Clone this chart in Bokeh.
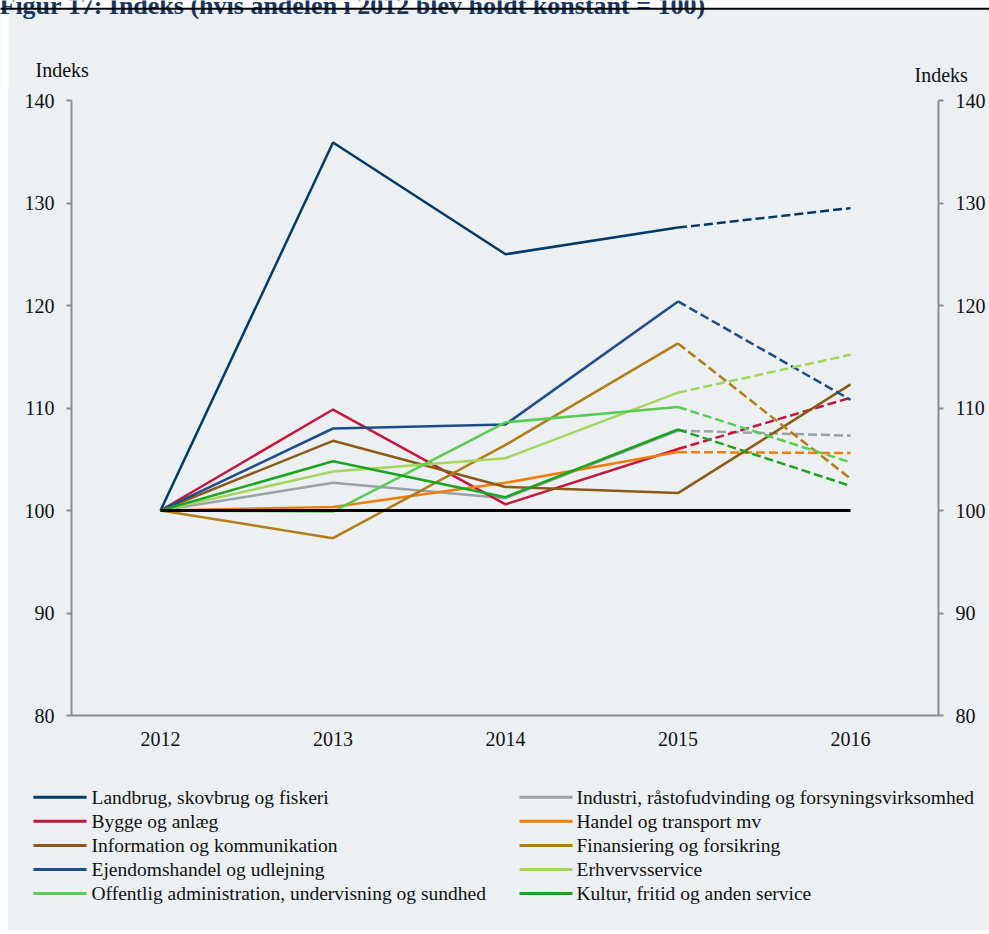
from bokeh.plotting import figure
from bokeh.models import Range1d, LinearAxis, FixedTicker, ColumnDataSource, Spacer
from bokeh.layouts import column, row
from bokeh.embed import file_html
from bokeh.resources import INLINE
from bokeh.core.properties import value

# ---------------- data ----------------
title_text = "Figur 17: Indeks (hvis andelen i 2012 blev holdt konstant = 100)"
axis_title = "Indeks"

years = [2012, 2013, 2014, 2015, 2016]

names = [
    "Landbrug, skovbrug og fiskeri",
    "Industri, råstofudvinding og forsyningsvirksomhed",
    "Bygge og anlæg",
    "Handel og transport mv",
    "Information og kommunikation",
    "Finansiering og forsikring",
    "Ejendomshandel og udlejning",
    "Erhvervsservice",
    "Offentlig administration, undervisning og sundhed",
    "Kultur, fritid og anden service",
]

landbrug = [100, 135.9, 125.0, 127.6, 129.5]
industri = [100, 102.7, 101.2, 107.8, 107.3]
bygge = [100, 109.85, 100.6, 106.0, 111.0]
handel = [100, 100.35, 102.7, 105.7, 105.6]
information = [100, 106.8, 102.3, 101.7, 112.3]
finansiering = [100, 97.3, 106.4, 116.3, 103.1]
ejendom = [100, 108.0, 108.4, 120.4, 110.8]
erhverv = [100, 103.8, 105.1, 111.5, 115.2]
offentlig = [100, 99.9, 108.6, 110.1, 104.7]
kultur = [100, 104.8, 101.3, 107.9, 102.4]
baseline = [100, 100, 100, 100, 100]

series = [landbrug, industri, bygge, handel, information,
          finansiering, ejendom, erhverv, offentlig, kultur]

colors = ["#033a66", "#9aa3aa", "#c3173f", "#f07d0a", "#8b5a16",
          "#b27c17", "#1f4c8a", "#a3d75c", "#58cc55", "#1ba51f"]
# last segment (2015-2016) dashed for all but Information
dashed_last = [True, True, True, True, False, True, True, True, True, True]

y_ticks = [80, 90, 100, 110, 120, 130, 140]

# ---------------- styling ----------------
BG = "#ecf0f3"
AX = "#8e8e8e"
FONT = "Liberation Serif"
FS = "20px"
TXT = "#111111"
W = 989
HEAD_H = 88
MAIN_H = 667
LEG_H = 175
LM = 8  # white strip left of the panel


def bare(width, height, xr, yr, bg):
    f = figure(width=width, height=height, toolbar_location=None, output_backend="svg",
               min_border=0, x_axis_location=None, y_axis_location=None,
               x_range=xr, y_range=yr, background_fill_color=bg, border_fill_color=bg,
               outline_line_color=None, frame_align=False)
    f.grid.visible = False
    return f

# ---------------- header: title, rule, axis titles ----------------
head = bare(W, HEAD_H, Range1d(0, W), Range1d(HEAD_H, 0), BG)
head.quad(left=-5, right=W + 5, top=-5, bottom=9.3, fill_color="white", line_color=None)
head.quad(left=-5, right=LM, top=-5, bottom=HEAD_H + 5, fill_color="white", line_color=None)
head.text(x=[-1], y=[4.5], text=[title_text], text_font=value(FONT),
          text_font_size=value("26px"), text_font_style="bold", text_color="#1a3764",
          text_baseline="alphabetic", text_align="left")
head.quad(left=-5, right=W + 5, top=7.3, bottom=9.3, fill_color="black", line_color=None)
head.text(x=[35, 914], y=[69, 74], text=[axis_title, axis_title], text_font=value(FONT),
          text_font_size=value(FS), text_color=TXT,
          text_baseline="middle", text_align="left")

# ---------------- main chart ----------------
p = figure(frame_width=867, frame_height=615,
           min_border_left=63, min_border_right=W - LM - 63 - 867,
           min_border_top=12, min_border_bottom=MAIN_H - 12 - 615,
           x_range=Range1d(2011.484, 2016.51), y_range=Range1d(80, 140),
           toolbar_location=None, output_backend="svg",
           background_fill_color=BG, border_fill_color=BG,
           outline_line_color=None, frame_align=False)
p.grid.visible = False

xa = p.xaxis[0]
xa.ticker = FixedTicker(ticks=years)
xa.axis_line_color = AX
xa.axis_line_width = 2
xa.major_tick_line_color = None
xa.minor_tick_line_color = None
xa.major_label_text_font = FONT
xa.major_label_text_font_size = FS
xa.major_label_text_color = TXT
xa.major_label_standoff = 10


def style_y(ax, standoff):
    ax.ticker = FixedTicker(ticks=y_ticks)
    ax.axis_line_color = AX
    ax.axis_line_width = 2
    ax.major_tick_line_color = AX
    ax.major_tick_line_width = 2
    ax.major_tick_out = 5
    ax.major_tick_in = 0
    ax.minor_tick_line_color = None
    ax.major_label_text_font = FONT
    ax.major_label_text_font_size = FS
    ax.major_label_text_color = TXT
    ax.major_label_standoff = standoff


style_y(p.yaxis[0], 12)
ra = LinearAxis()
style_y(ra, 12)
p.add_layout(ra, "right")

for vals, col, dl in zip(series, colors, dashed_last):
    if dl:
        p.line(years[:4], vals[:4], line_color=col, line_width=2.5)
        p.line(years[3:], vals[3:], line_color=col, line_width=2.5, line_dash="9 4")
    else:
        p.line(years, vals, line_color=col, line_width=2.5)

p.line(years, baseline, line_color="black", line_width=3)

# ---------------- legend ----------------
LW = W - LM
lg = bare(LW, LEG_H, Range1d(0, LW), Range1d(LEG_H, 0), BG)

col_x0 = [25, 511]
col_x1 = [78, 564]
col_tx = [83, 568]
x0s, x1s, ys, txs = [], [], [], []
for i in range(len(names)):
    c, r = i % 2, i // 2
    yy = 41.7 + r * 24.1
    x0s.append(col_x0[c]); x1s.append(col_x1[c]); txs.append(col_tx[c]); ys.append(yy)

src = ColumnDataSource(dict(x0=x0s, x1=x1s, y=ys, tx=txs, name=names, color=colors))
lg.segment(x0="x0", y0="y", x1="x1", y1="y", line_color="color", line_width=3, source=src)
lg.text(x="tx", y="y", text="name", source=src, text_font=value(FONT),
        text_font_size=value("19.5px"), text_color=TXT,
        text_baseline="middle", text_align="left")

white = {"background-color": "white"}
panel = {"background-color": BG}
layout = column(head,
                row(Spacer(width=LM, height=MAIN_H, styles=white), p, spacing=0, styles=panel),
                row(Spacer(width=LM, height=LEG_H, styles=white), lg, spacing=0, styles=panel),
                spacing=0, styles=panel)
open("out.html", "w").write(file_html(layout, INLINE))
